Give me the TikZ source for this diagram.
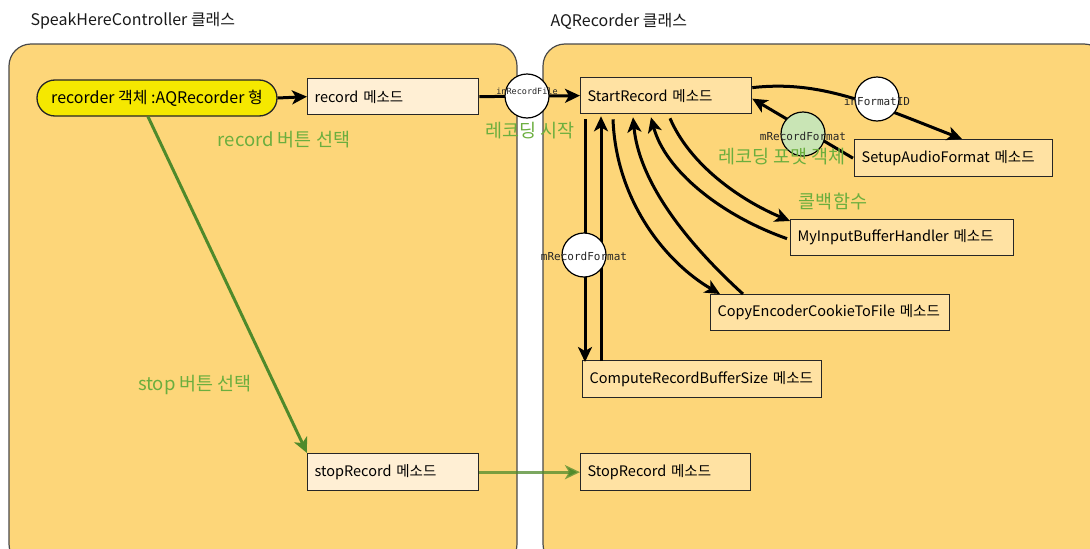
\documentclass[tikz,border=0pt]{standalone}
\usepackage{fontspec}
\setmainfont{Noto Sans CJK KR}
\newfontfamily\monof{DejaVu Sans Mono}
\usetikzlibrary{arrows.meta,calc}
\definecolor{panelfill}{HTML}{FDD679}
\definecolor{panelline}{HTML}{4A4A4A}
\definecolor{boxfill}{HTML}{FFE2A3}
\definecolor{lightbox}{HTML}{FFEFD4}
\definecolor{yellowfill}{HTML}{F5E800}
\definecolor{greenline}{HTML}{4F8A2B}
\definecolor{greentext}{HTML}{6BAE3E}
\definecolor{greencirc}{HTML}{C9E5B5}
\tikzset{
  panel/.style={draw=panelline, fill=panelfill, line width=1.2pt, rounded corners=22pt},
  mbox/.style={draw=black!85, fill=boxfill, line width=1.3pt, anchor=north west, align=left,
    inner xsep=7pt, inner ysep=0pt, font=\fontsize{14.5}{17}\selectfont},
  title/.style={anchor=west, font=\fontsize{16}{19}\selectfont, text=black!90},
  glabel/.style={text=greentext, font=\fontsize{18.5}{22}\selectfont},
  mono/.style={font=\monof\fontsize{11}{13}\selectfont, text=black!85, inner sep=0pt},
  circ/.style={circle, draw=black, line width=1.2pt, fill=white, minimum size=44pt, inner sep=0pt},
  arr/.style={line width=3pt, -{Stealth[length=15pt,width=14pt,inset=4pt]}},
  garr/.style={line width=3pt, draw=greenline, -{Stealth[length=15pt,width=14pt,inset=4pt]}}
}
\begin{document}
\begin{tikzpicture}[x=1pt,y=-1pt]
\useasboundingbox (0,0) rectangle (1090,549);
\clip (0,0) rectangle (1090,549);
% panels
\path[panel] (9,44) rectangle (517,566);
\path[panel] (543,44) rectangle (1106,566);
% titles
\node[title] (t1) at (27,21) {SpeakHereController 클래스};
\node[title] (t2) at (547,21) {AQRecorder 클래스};
% left nodes
\node[draw=black!85, fill=yellowfill, line width=1.3pt, rounded corners=18pt,
  minimum width=240pt, minimum height=36pt, inner sep=0pt,
  font=\fontsize{16}{19}\selectfont] (recorder) at (157,98) {recorder 객체 :AQRecorder 형};
\node[mbox, fill=lightbox, text width=157pt, minimum height=36pt] (record) at (307,78) {\mbox{record 메소드}};
\node[mbox, fill=lightbox, text width=157pt, minimum height=37pt] (stopRec) at (307,453) {\mbox{stopRecord 메소드}};
% right nodes
\node[mbox, text width=157pt, minimum height=36pt] (start) at (580,77) {\mbox{StartRecord 메소드}};
\node[mbox, text width=156pt, minimum height=37pt] (StopRec) at (580,453) {\mbox{StopRecord 메소드}};
\node[mbox, text width=184pt, minimum height=37pt] (setup) at (854,139) {\mbox{SetupAudioFormat 메소드}};
\node[mbox, text width=209pt, minimum height=36pt] (myinput) at (790,219) {\mbox{MyInputBufferHandler 메소드}};
\node[mbox, text width=225pt, minimum height=36pt] (copyenc) at (710,294) {\mbox{CopyEncoderCookieToFile 메소드}};
\node[mbox, text width=225pt, minimum height=37pt] (compute) at (582,360) {\mbox{ComputeRecordBufferSize 메소드}};
% black connectors
\draw[arr] (recorder.east) -- (record.west);
\draw[arr] (record.east) -- (start.west);
\draw[arr] ([yshift=8pt]start.east) .. controls (820,80) and (870,103) .. ($(setup.north west)+(108,0)$);
\draw[arr] ([xshift=-1pt]setup.west) -- ([yshift=-3pt]start.east);
\draw[arr] ($(start.south west)+(90,4)$) .. controls (690,165) and (740,200) .. ($(myinput.north west)+(0,2)$);
\draw[arr] ($(myinput.west)+(-3,1)$) .. controls (720,215) and (665,170) .. ($(start.south west)+(71,3)$);
\draw[arr] ($(start.south west)+(33,5)$) .. controls (616,200) and (665,262) .. ($(copyenc.north west)+(10,0)$);
\draw[arr] ($(copyenc.north west)+(33,0)$) .. controls (700,255) and (640,190) .. ($(start.south west)+(53,3)$);
\draw[arr] ($(start.south west)+(5,5)$) -- ($(compute.north west)+(3,2)$);
\draw[arr] ($(compute.north west)+(19,1)$) -- ($(start.south west)+(21,2)$);
% green connectors
\draw[garr] ([xshift=-9pt]recorder.south) -- (stopRec.north west);
\draw[garr, draw opacity=0.75] (stopRec.east) -- (StopRec.west);
% circles with labels
\node[circ] (c1) at (527,96) {};
\node[mono, font=\monof\fontsize{8.5}{10}\selectfont] (l1) at ([yshift=5pt]c1.center) {inRecordFile};
\node[circ] (c2) at (877,99) {};
\node[mono] (l2) at ([yshift=-2pt]c2.center) {inFormatID};
\node[circ, fill=greencirc] (c3) at (803,134) {};
\node[mono] (l3) at ([yshift=-2pt]c3.center) {mRecordFormat};
\node[circ] (c4) at (584,255) {};
\node[mono] (l4) at ([yshift=-1pt]c4.center) {mRecordFormat};
% green labels
\node[glabel] (g1) at (284,140) {record 버튼 선택};
\node[glabel] (g2) at (530,131) {레코딩 시작};
\node[glabel] (g3) at (782,157) {레코딩 포맷 객체};
\node[glabel] (g4) at (833,202) {콜백함수};
\node[glabel] (g5) at (195,385) {stop 버튼 선택};
\end{tikzpicture}
\end{document}
